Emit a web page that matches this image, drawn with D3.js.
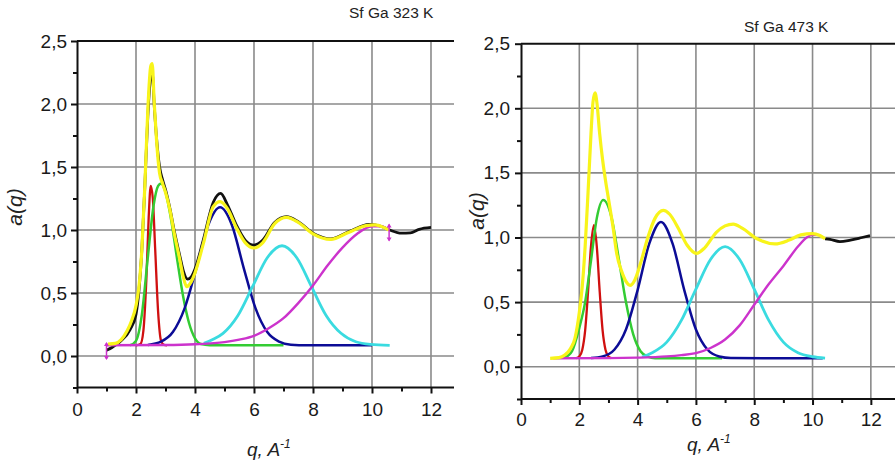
<!DOCTYPE html>
<html>
<head>
<meta charset="utf-8">
<script src="https://cdn.jsdelivr.net/npm/d3@7"></script>
<style>
  html, body { margin: 0; padding: 0; background: #fff; }
  svg { display: block; font-family: "Liberation Sans", Arial, sans-serif; }
</style>
</head>
<body>
<svg id="chart" width="895" height="465"></svg>
<script>
// axis ticks and labels
const xTicks = [0, 2, 4, 6, 8, 10, 12];
const xMinorTicks = [1, 3, 5, 7, 9, 11];
const yTicks = [0, 0.5, 1.0, 1.5, 2.0, 2.5];
const yTickLabels = ['0,0', '0,5', '1,0', '1,5', '2,0', '2,5'];
const yMinorTicks = [-0.25, 0.25, 0.75, 1.25, 1.75, 2.25];
const titles = ['Sf Ga 323 K', 'Sf Ga 473 K'];

// ---- Sf Ga 323 K : [q, a(q)] ----
const exp323 = [[1.0,0.045],[1.2,0.07],[1.46,0.113],[1.8,0.21],[2.0,0.33],[2.1,0.52],[2.2,0.85],[2.3,1.35],
  [2.4,1.9],[2.5,2.22],[2.55,2.25],[2.62,1.98],[2.7,1.72],[2.8,1.5],[2.9,1.4],[3.0,1.32],[3.15,1.17],
  [3.3,0.99],[3.49,0.79],[3.6,0.68],[3.75,0.61],[3.88,0.63],[4.0,0.69],[4.28,0.92],[4.62,1.22],[4.87,1.29],
  [5.1,1.2],[5.4,1.04],[5.7,0.92],[6.0,0.88],[6.3,0.92],[6.7,1.06],[7.1,1.105],[7.5,1.065],[8.0,0.975],
  [8.6,0.93],[9.2,0.985],[9.9,1.045],[10.3,1.03],[10.6,1.0],[11.0,0.975],[11.3,0.978],[11.6,1.005],[12.0,1.02]];
const fit323 = [[1.05,0.095],[1.3,0.1],[1.5,0.13],[1.7,0.2],[1.85,0.28],[2.0,0.4],[2.1,0.55],[2.2,0.85],
  [2.3,1.35],[2.4,1.95],[2.5,2.3],[2.55,2.32],[2.62,2.0],[2.7,1.7],[2.8,1.45],[2.9,1.37],[3.0,1.3],
  [3.15,1.16],[3.3,0.97],[3.49,0.76],[3.6,0.63],[3.72,0.55],[3.85,0.58],[4.0,0.66],[4.28,0.89],[4.62,1.185],
  [4.85,1.225],[5.1,1.17],[5.4,1.02],[5.7,0.9],[6.0,0.857],[6.3,0.9],[6.7,1.05],[7.1,1.1],[7.5,1.06],
  [8.0,0.97],[8.6,0.926],[9.2,0.98],[9.8,1.035],[10.1,1.04],[10.4,1.02],[10.58,1.0]];
const red323 = [[2.0,0.085],[2.15,0.095],[2.25,0.2],[2.35,0.6],[2.43,1.1],[2.5,1.35],[2.57,1.25],
  [2.65,0.85],[2.75,0.35],[2.85,0.12],[2.95,0.088],[3.05,0.085]];
const green323 = [[1.8,0.085],[2.0,0.12],[2.2,0.33],[2.4,0.78],[2.6,1.2],[2.75,1.35],[2.85,1.37],
  [3.0,1.3],[3.2,1.07],[3.4,0.76],[3.6,0.47],[3.8,0.26],[4.0,0.14],[4.2,0.095],[4.5,0.086],[7.0,0.085]];
const blue323 = [[2.4,0.088],[2.85,0.114],[3.25,0.19],[3.65,0.38],[4.05,0.7],[4.45,1.04],[4.85,1.18],
  [5.25,1.04],[5.65,0.7],[6.05,0.38],[6.45,0.19],[6.85,0.114],[7.25,0.09],[7.8,0.085],[10.0,0.085]];
const cyan323 = [[4.3,0.1],[4.6,0.13],[4.95,0.18],[5.45,0.32],[5.95,0.55],[6.45,0.78],[6.95,0.875],
  [7.45,0.78],[7.95,0.55],[8.45,0.32],[8.95,0.18],[9.45,0.113],[9.95,0.092],[10.6,0.085]];
const magenta323 = [[1.0,0.085],[3.0,0.087],[4.0,0.093],[5.0,0.11],[5.5,0.13],[6.0,0.16],[6.5,0.22],
  [7.0,0.3],[7.5,0.42],[8.0,0.56],[8.5,0.72],[9.0,0.86],[9.5,0.97],[10.0,1.03],[10.3,1.03],[10.58,1.0]];
const markers323 = [[1.0,0.04],[10.58,0.98]];

// ---- Sf Ga 473 K ----
const exp473 = [[10.43,0.99],[10.6,0.985],[10.94,0.968],[11.3,0.98],[11.7,1.0],[11.97,1.014]];
const fit473 = [[1.0,0.065],[1.3,0.07],[1.5,0.09],[1.7,0.14],[1.85,0.22],[2.0,0.42],[2.1,0.62],[2.2,0.93],
  [2.3,1.35],[2.4,1.8],[2.47,2.05],[2.54,2.12],[2.6,2.05],[2.7,1.8],[2.8,1.6],[2.9,1.44],[3.0,1.3],
  [3.17,1.06],[3.28,0.88],[3.45,0.74],[3.6,0.66],[3.74,0.63],[3.9,0.67],[4.1,0.8],[4.35,1.0],[4.6,1.15],
  [4.88,1.21],[5.1,1.18],[5.4,1.07],[5.7,0.94],[6.02,0.877],[6.3,0.92],[6.7,1.04],[7.0,1.09],[7.28,1.104],
  [7.6,1.07],[8.1,0.99],[8.71,0.95],[9.2,0.98],[9.6,1.02],[10.0,1.03],[10.25,1.015],[10.43,0.99]];
const red473 = [[1.9,0.066],[2.0,0.079],[2.1,0.13],[2.2,0.28],[2.3,0.58],[2.4,0.93],[2.5,1.095],
  [2.6,0.93],[2.7,0.58],[2.8,0.28],[2.9,0.13],[3.0,0.079],[3.1,0.066]];
const green473 = [[1.5,0.07],[1.75,0.12],[2.0,0.3],[2.2,0.5],[2.4,0.82],[2.6,1.15],[2.82,1.29],
  [3.1,1.16],[3.35,0.84],[3.6,0.5],[3.85,0.25],[4.1,0.12],[4.35,0.078],[4.6,0.066],[6.9,0.065]];
const blue473 = [[2.4,0.067],[2.8,0.079],[3.2,0.131],[3.6,0.288],[4.0,0.593],[4.4,0.952],[4.8,1.12],
  [5.2,0.952],[5.6,0.593],[6.0,0.288],[6.4,0.131],[6.8,0.079],[7.2,0.067],[10.35,0.065]];
const cyan473 = [[4.15,0.075],[4.5,0.108],[5.0,0.19],[5.5,0.358],[6.0,0.6],[6.5,0.83],[7.0,0.929],
  [7.5,0.83],[8.0,0.6],[8.5,0.358],[9.0,0.19],[9.5,0.108],[10.0,0.077],[10.43,0.067]];
const magenta473 = [[1.1,0.065],[3.0,0.066],[4.0,0.07],[5.0,0.08],[5.5,0.09],[6.0,0.105],[6.5,0.145],
  [7.0,0.21],[7.5,0.32],[8.0,0.48],[8.5,0.64],[9.0,0.78],[9.5,0.93],[9.8,1.0],[10.0,1.02],[10.2,1.02]];
const markers473 = [];

const svg = d3.select('#chart');

function drawPanel(o) {
  const g = svg.append('g');
  const x = d3.scaleLinear().domain([0, o.xMax]).range([o.left, o.right]);
  const y = d3.scaleLinear().domain([-0.25, 2.5]).range([o.bottom, o.top]);

  // grid
  g.selectAll('line.vg').data(xTicks.slice(1)).join('line')
    .attr('x1', d => x(d)).attr('x2', d => x(d))
    .attr('y1', y(2.5)).attr('y2', y(-0.25))
    .attr('stroke', '#8a8a8a').attr('stroke-width', 1.6);
  g.selectAll('line.hg').data(yTicks.slice(0, -1)).join('line')
    .attr('x1', x(0)).attr('x2', o.right)
    .attr('y1', d => y(d)).attr('y2', d => y(d))
    .attr('stroke', '#8a8a8a').attr('stroke-width', 1.6);
  // top frame
  g.append('line').attr('x1', x(0)).attr('x2', o.right)
    .attr('y1', y(2.5)).attr('y2', y(2.5))
    .attr('stroke', '#111').attr('stroke-width', 2);

  // axes
  const yAx = g.append('g').attr('transform', `translate(${x(0)},0)`)
    .call(d3.axisLeft(y).tickValues(yTicks).tickFormat((d, i) => yTickLabels[i])
      .tickSize(6).tickSizeOuter(0).tickPadding(o.yPad));
  g.append('g').attr('transform', `translate(${x(0)},0)`)
    .call(d3.axisLeft(y).tickValues(yMinorTicks).tickFormat('').tickSize(4).tickSizeOuter(0))
    .select('.domain').remove();
  const xAx = g.append('g').attr('transform', `translate(0,${y(-0.25)})`)
    .call(d3.axisBottom(x).tickValues(xTicks).tickSize(6).tickSizeOuter(0).tickPadding(o.xPad));
  g.append('g').attr('transform', `translate(0,${y(-0.25)})`)
    .call(d3.axisBottom(x).tickValues(xMinorTicks).tickFormat('').tickSize(4).tickSizeOuter(0))
    .select('.domain').remove();
  xAx.select('.domain').attr('d', `M${x(0)},0H${o.right}`);
  g.selectAll('.tick line, .domain').attr('stroke', '#111').attr('stroke-width', 2);
  [yAx, xAx].forEach(a => a.selectAll('text')
    .attr('font-size', 19).attr('fill', '#1a1a1a').attr('font-family', '"Liberation Sans", Arial, sans-serif'));

  // curves
  const line = d3.line().x(d => x(d[0])).y(d => y(d[1])).curve(d3.curveMonotoneX);
  const series = [
    { data: o.exp, color: '#111111', w: 2.8 },
    { data: o.red, color: '#d01010', w: 2.3 },
    { data: o.green, color: '#33cc33', w: 2.5 },
    { data: o.blue, color: '#0c0c96', w: 2.5 },
    { data: o.cyan, color: '#3adbe0', w: 2.8 },
    { data: o.magenta, color: '#cc33cc', w: 2.4 },
    { data: o.fit, color: '#f8f41a', w: 3.2 }
  ];
  g.selectAll('path.curve').data(series).join('path')
    .attr('class', 'curve')
    .attr('d', d => line(d.data))
    .attr('fill', 'none')
    .attr('stroke', d => d.color)
    .attr('stroke-width', d => d.w)
    .attr('stroke-linejoin', 'round');

  // range markers (magenta double arrows)
  const mk = g.selectAll('g.mk').data(o.markers).join('g')
    .attr('transform', d => `translate(${x(d[0])},${y(d[1])})`);
  mk.append('line').attr('y1', -8).attr('y2', 8).attr('stroke', '#cc33cc').attr('stroke-width', 1.5);
  mk.append('path').attr('d', 'M-2.5,-5L0,-9L2.5,-5ZM-2.5,5L0,9L2.5,5Z').attr('fill', '#cc33cc');

  // titles
  g.append('text').attr('x', o.titleX).attr('y', o.titleY)
    .attr('font-size', 15.5).attr('fill', '#222').text(o.title);
  g.append('text')
    .attr('transform', `translate(${o.yLabX},${o.yLabY}) rotate(-90)`)
    .attr('text-anchor', 'middle').attr('font-size', 21).attr('font-style', 'italic')
    .attr('fill', '#222').text('a(q)');
  const xl = g.append('text').attr('x', o.xLabX).attr('y', o.xLabY)
    .attr('font-size', 19).attr('font-style', 'italic').attr('fill', '#222');
  xl.append('tspan').text('q, A');
  xl.append('tspan').attr('dy', -8).attr('font-size', 12).text('-1');
}

drawPanel({
  left: 77, right: 454, xMax: 12.78, top: 41, bottom: 387.5,
  yPad: 4, xPad: 9,
  title: titles[0], titleX: 349, titleY: 18,
  yLabX: 22, yLabY: 207, xLabX: 247, xLabY: 456,
  exp: exp323, fit: fit323, red: red323, green: green323, blue: blue323,
  cyan: cyan323, magenta: magenta323, markers: markers323
});
drawPanel({
  left: 521, right: 900, xMax: 13, top: 43.7, bottom: 399,
  yPad: 5, xPad: 8,
  title: titles[1], titleX: 744, titleY: 32,
  yLabX: 484, yLabY: 211, xLabX: 687, xLabY: 451,
  exp: exp473, fit: fit473, red: red473, green: green473, blue: blue473,
  cyan: cyan473, magenta: magenta473, markers: markers473
});
</script>
</body>
</html>
